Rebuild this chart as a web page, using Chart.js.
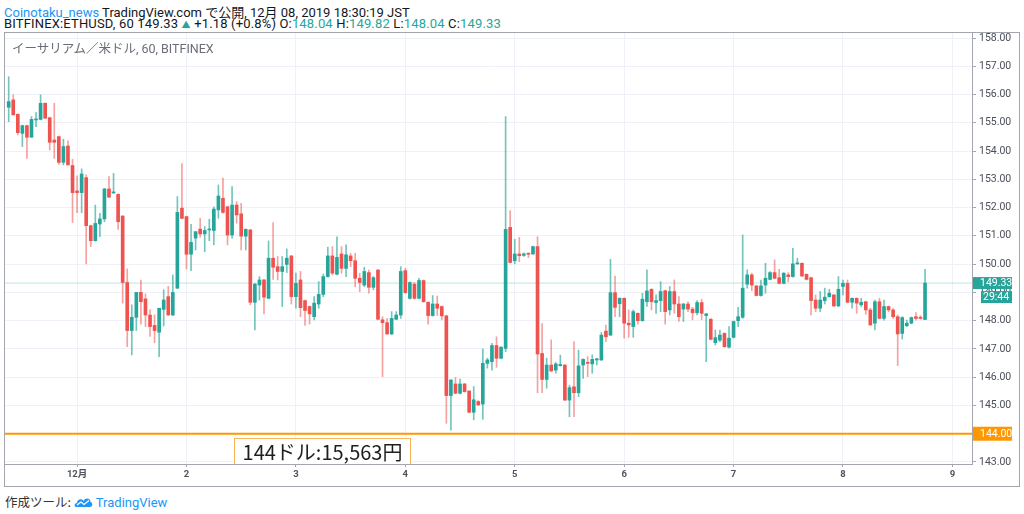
<!DOCTYPE html>
<html>
<head>
<meta charset="utf-8">
<script src="https://cdn.jsdelivr.net/npm/chart.js@4"></script>
<style>
  body { margin: 0; background: #fff; width: 1024px; height: 514px; overflow: hidden; font-family: Roboto, "Noto Sans CJK JP", sans-serif; }
  .head { position: absolute; left: 4px; font-size: 13px; color: #131722; white-space: nowrap; }
  .blue { color: #2196f3; }
  .up { color: #26a69a; }
  .box { position: absolute; left: 4px; top: 32px; width: 1016px; height: 455px; border: 1px solid #a3a6af; box-sizing: border-box; }
  .inner { position: absolute; left: 0; top: 0; width: 1014px; height: 453px; }
  .sym { position: absolute; left: 12px; top: 38px; font-size: 12.5px; color: #6a6d78; white-space: nowrap; }
  .note { position: absolute; left: 234px; top: 438px; width: 177px; height: 26px; border: 1px solid #f9b45c; border-bottom: none; box-sizing: border-box; background: #fff; font-family: "Noto Sans CJK JP", sans-serif; font-size: 20px; line-height: 25px; color: #1e1e1e; text-align: center; }
  .foot { position: absolute; left: 5px; top: 492px; font-size: 12.5px; color: #333; white-space: nowrap; font-family: "Noto Sans CJK JP", sans-serif; }
  .foot .tv { color: #2196f3; font-family: Roboto, sans-serif; font-size: 13px; }
</style>
</head>
<body>
<div class="head" style="top:2px"><span class="blue">Coinotaku_news</span> TradingView.com で公開, 12月 08, 2019 18:30:19 JST</div>
<div class="head" style="top:16px;letter-spacing:0.16px">BITFINEX:ETHUSD, 60 149.33 <span class="up" style="font-size:9px">▲</span> +1.18 (+0.8%) O:<span class="up">148.04</span> H:<span class="up">149.82</span> L:<span class="up">148.04</span> C:<span class="up">149.33</span></div>
<div class="box"><div class="inner"><canvas id="c"></canvas></div></div>
<div class="sym">イーサリアム／米ドル, 60, BITFINEX</div>
<div class="note">144ドル:15,563円</div>
<div class="foot">作成ツール:<svg width="19" height="12" viewBox="0 0 19 12" style="vertical-align:-1px;margin-left:3px"><path d="M2 11 C0 11 0 7 3 7 C3 3 8 2 9.5 5 C11 1 17 2 16.5 6 C19 6.5 19 11 16 11 Z" fill="#2196f3"/><path d="M3 9 L7 6 L10 8.5 L15 4.5" stroke="#fff" stroke-width="1.3" fill="none"/></svg> <span class="tv">TradingView</span></div>
<script>
// hourly candles, Nov 30 09:00 .. Dec 8 18:00 (JST)
const open = [
  155.55,155.81,155.30,154.63,154.90,154.49,155.10,155.12,155.69,155.18,154.39,154.51,153.60,154.18,153.49,152.59,152.53,153.06,151.36,150.83,
  151.42,151.60,152.66,152.52,152.47,151.70,149.35,147.65,148.12,149.00,148.77,148.20,147.83,147.59,148.40,148.85,148.20,149.15,151.98,151.68,
  150.35,150.92,151.24,151.07,151.21,151.19,151.92,152.33,152.03,151.03,152.09,151.78,150.99,151.21,148.65,149.26,149.44,148.79,150.21,149.91,
  149.74,149.99,150.29,148.85,149.44,148.71,148.50,148.14,148.59,148.93,149.56,150.29,149.64,150.36,149.85,150.29,150.12,149.50,149.26,149.70,
  149.18,149.79,148.03,147.93,147.53,148.05,148.20,149.77,148.79,149.29,148.79,149.42,148.65,148.18,148.59,148.50,148.17,145.35,145.76,145.43,
  145.76,145.51,144.76,145.14,145.05,146.49,146.55,147.12,146.67,147.02,151.30,150.12,150.36,150.31,150.38,150.36,150.62,146.84,145.92,146.43,
  146.25,146.41,146.43,145.19,145.66,145.45,146.43,146.52,146.47,146.61,146.61,147.63,147.49,148.99,148.60,148.79,147.91,147.79,148.26,148.00,
  148.67,149.11,148.64,148.71,149.06,148.38,149.03,148.59,148.41,148.59,148.41,148.28,148.64,148.18,148.05,147.22,147.31,147.55,147.06,147.41,
  148.00,148.12,149.29,149.62,149.23,148.89,149.26,149.46,149.70,149.52,149.32,149.62,149.56,150.01,150.03,149.64,149.52,148.73,148.44,148.71,
  148.85,148.91,148.52,149.21,149.32,148.65,148.79,148.56,148.67,148.38,147.91,148.67,148.08,148.50,148.38,148.14,147.55,147.82,147.91,148.14,
  148.12,148.04
];
const high = [
  156.63,155.99,155.32,154.92,154.92,155.22,155.36,155.99,155.71,155.20,155.69,154.53,154.42,154.36,153.71,153.12,153.37,153.16,151.38,152.09,
  151.80,152.68,153.10,153.21,152.49,151.72,149.83,148.56,149.00,149.44,148.95,148.38,148.20,148.44,149.09,149.21,149.62,152.39,153.56,151.70,
  151.41,151.15,151.62,151.33,151.59,152.03,152.80,153.04,152.05,152.74,152.21,152.15,151.25,151.23,149.32,149.56,149.46,150.82,151.47,150.27,
  150.27,150.54,150.31,149.68,149.74,148.73,148.52,148.85,149.38,149.65,150.60,150.62,150.97,150.62,150.68,150.38,150.38,149.68,149.89,149.79,
  149.56,149.82,148.14,148.08,148.32,148.32,149.91,149.85,149.37,149.35,149.50,149.44,148.67,148.89,148.87,148.52,148.19,145.92,145.99,145.93,
  145.78,145.53,145.67,145.17,147.00,146.67,147.20,147.43,147.08,155.22,151.89,150.88,150.95,150.40,150.40,150.64,150.97,147.90,146.67,147.32,
  146.52,146.78,146.45,145.72,147.26,146.96,146.65,146.73,146.79,146.67,147.58,147.84,150.17,149.58,148.81,148.81,148.38,148.38,148.28,148.97,
  149.80,149.13,148.91,149.38,149.08,149.21,149.44,148.85,148.61,148.67,148.47,148.71,148.76,148.26,148.08,147.67,147.67,147.57,147.79,147.99,
  148.47,151.03,149.80,149.68,149.25,149.44,150.03,149.74,150.15,149.82,149.70,149.70,150.56,150.21,150.05,149.66,149.54,148.91,149.03,149.15,
  149.11,148.93,149.56,149.44,149.44,148.81,148.81,148.79,148.69,148.44,148.73,148.79,148.73,148.52,148.44,148.20,148.14,148.02,148.13,148.29,
  148.18,149.82
];
const low = [
  155.04,155.28,154.57,154.16,153.74,154.49,154.86,155.10,155.16,154.04,153.74,153.53,153.51,153.51,151.47,151.82,151.82,150.01,150.62,150.81,
  150.97,151.50,152.35,152.50,151.23,148.62,147.08,146.79,147.65,147.88,147.79,147.44,147.22,146.73,147.81,148.18,148.18,149.13,151.60,149.83,
  149.77,150.50,150.95,150.44,150.83,150.68,151.62,151.80,150.68,150.92,151.45,150.50,150.50,148.56,147.67,148.73,148.24,148.77,149.46,149.44,
  148.50,149.70,148.59,148.44,148.14,147.83,147.88,148.03,148.44,148.85,149.54,149.62,149.62,149.68,149.56,149.91,149.20,149.03,149.20,148.97,
  149.09,148.03,146.02,147.51,147.50,148.03,148.08,148.97,148.76,148.76,148.77,148.65,147.88,148.16,148.18,148.03,144.37,144.13,145.41,145.41,
  145.47,144.74,144.49,145.00,144.51,146.32,146.25,146.35,146.65,146.90,150.04,150.01,150.09,150.27,150.23,150.34,145.45,145.45,145.61,146.20,
  146.14,146.39,145.17,144.60,144.60,145.31,145.96,146.02,146.14,146.43,146.59,147.26,147.47,148.14,148.14,147.38,147.41,147.41,147.88,147.98,
  148.50,148.38,148.26,148.32,147.88,148.20,148.26,147.97,147.97,148.32,148.03,148.20,148.03,146.55,147.32,147.14,147.26,147.06,147.04,147.39,
  147.79,148.08,149.15,149.06,148.87,148.87,148.97,149.44,149.48,149.30,149.30,149.38,149.54,149.99,149.56,149.44,148.20,148.32,148.32,148.59,
  148.83,148.50,148.50,148.91,148.63,148.44,148.26,148.50,148.22,147.83,147.67,148.06,148.02,148.32,148.08,146.41,147.35,147.79,147.89,148.02,
  148.05,148.04
];
const close = [
  155.75,155.28,154.65,154.90,154.49,155.12,155.12,155.69,155.16,154.31,154.31,153.60,154.16,153.51,152.53,152.53,153.19,151.36,150.83,151.44,
  151.60,152.66,152.37,152.55,151.50,149.35,147.65,148.12,149.00,148.67,148.20,147.79,147.65,148.44,148.73,148.20,149.00,151.83,151.62,150.35,
  150.77,151.15,151.07,151.19,151.24,151.95,152.41,151.83,151.03,152.09,151.74,150.99,151.23,148.65,149.29,149.44,148.83,150.21,149.89,149.74,
  149.91,150.21,148.85,149.32,148.46,148.36,148.24,148.62,148.93,149.56,150.29,149.68,150.24,149.85,150.33,150.12,149.50,149.35,149.74,149.18,
  149.52,148.05,147.93,147.53,148.08,148.20,149.74,148.99,149.35,148.79,149.42,148.67,148.18,148.59,148.44,148.17,145.35,145.90,145.43,145.76,
  145.49,144.76,145.20,145.02,146.49,146.61,147.12,146.67,147.06,151.23,150.06,150.36,150.30,150.36,150.35,150.62,146.82,145.92,146.43,146.22,
  146.47,146.45,145.19,145.63,145.45,146.40,146.63,146.49,146.63,146.65,147.49,147.43,148.99,148.47,148.79,147.91,147.85,148.32,148.00,148.76,
  149.05,148.67,148.71,149.03,148.32,149.03,148.59,148.14,148.59,148.41,148.28,148.64,148.26,148.24,147.34,147.40,147.49,147.08,147.38,147.97,
  148.14,149.15,149.62,149.26,148.89,149.23,149.50,149.70,149.50,149.32,149.68,149.56,150.01,150.03,149.58,149.46,148.71,148.44,148.73,148.83,
  148.97,148.52,149.11,149.32,148.65,148.79,148.62,148.65,148.38,147.85,148.67,148.08,148.50,148.38,148.14,147.53,148.11,147.91,148.11,148.08,
  148.08,149.33
];

// x axis: candle index of each day start, and its label
const dayTicks = [15, 39, 63, 87, 111, 135, 159, 183, 207];
const dayLabels = ['12月', '2', '3', '4', '5', '6', '7', '8', '9'];
const priceTicks = [143, 144, 145, 146, 147, 148, 149, 150, 151, 152, 153, 154, 155, 156, 157, 158];
const alertLevel = 144;
const countdown = '29:44';

const UP = '#26a69a', DOWN = '#ef5350';
const X_MIN = -0.81, X_MAX = 211.3;

const idx = close.map((_, i) => i);
const isUp = idx.map(i => close[i] >= open[i]);

const sideLabels = {
  id: 'sideLabels',
  afterDraw(chart) {
    const c = chart.ctx, y = chart.scales.y, area = chart.chartArea;
    const last = close[close.length - 1];
    c.save();
    c.font = '10.5px Roboto, sans-serif';
    c.textBaseline = 'middle';
    c.textAlign = 'left';
    let py = y.getPixelForValue(last);
    c.fillStyle = UP;
    c.fillRect(area.right + 1, py - 6, 39, 12);
    c.fillStyle = '#fff';
    c.fillText(last.toFixed(2), area.right + 8, py + 0.5);
    c.fillStyle = UP;
    c.fillRect(area.right + 9, py + 8, 31, 12);
    c.fillStyle = '#fff';
    c.fillText(countdown, area.right + 11, py + 14.5);
    py = y.getPixelForValue(alertLevel);
    c.fillStyle = '#ff9800';
    c.fillRect(area.right + 1, py - 7, 39, 14);
    c.fillStyle = '#fff';
    c.fillText(alertLevel.toFixed(2), area.right + 8, py + 0.5);
    c.restore();
  }
};

new Chart(document.getElementById('c'), {
  data: {
    datasets: [
      {
        type: 'bar',
        label: 'body',
        data: idx.map(i => ({ x: i, y: [open[i], close[i]] })),
        backgroundColor: idx.map(i => isUp[i] ? UP : DOWN),
        barThickness: 3,
        minBarLength: 1,
        grouped: false,
        order: 0
      },
      {
        type: 'bar',
        label: 'wick',
        data: idx.map(i => ({ x: i, y: [low[i], high[i]] })),
        backgroundColor: idx.map(i => isUp[i] ? 'rgba(38,166,154,0.65)' : 'rgba(239,83,80,0.55)'),
        barThickness: 1,
        grouped: false,
        order: 1
      },
      {
        type: 'line',
        label: 'last',
        data: [{ x: X_MIN, y: close[close.length - 1] }, { x: X_MAX, y: close[close.length - 1] }],
        borderColor: 'rgba(38,166,154,0.3)',
        borderWidth: 1,
        pointRadius: 0,
        order: 3
      },
      {
        type: 'line',
        label: 'alert',
        data: [{ x: X_MIN, y: alertLevel }, { x: X_MAX, y: alertLevel }],
        borderColor: '#ff9800',
        borderWidth: 2,
        pointRadius: 0,
        order: 2
      }
    ]
  },
  options: {
    responsive: true,
    maintainAspectRatio: false,
    animation: false,
    layout: { padding: 0, autoPadding: false },
    scales: {
      x: {
        type: 'linear',
        min: X_MIN,
        max: X_MAX,
        offset: false,
        afterBuildTicks: s => { s.ticks = dayTicks.map(v => ({ value: v })); },
        afterFit: s => { s.height = 22; s.paddingLeft = 0; s.paddingRight = 0; },
        ticks: {
          autoSkip: false,
          maxRotation: 0,
          padding: 2,
          color: '#50535e',
          font: { family: 'Roboto, "Noto Sans CJK JP"', size: 9.5, weight: 'bold' },
          callback: (v) => dayLabels[dayTicks.indexOf(v)]
        },
        grid: { color: '#eef1f7', offset: false, tickLength: 3, tickColor: '#a3a6af' },
        border: { color: '#a3a6af', width: 1 }
      },
      y: {
        position: 'right',
        min: 142.929,
        max: 158.177,
        afterBuildTicks: s => { s.ticks = priceTicks.map(v => ({ value: v })); },
        afterFit: s => { s.width = 47; s.paddingTop = 0; s.paddingBottom = 0; },
        ticks: {
          autoSkip: false,
          padding: 3,
          color: '#4a4e59',
          font: { family: 'Roboto', size: 10.5 },
          callback: v => v.toFixed(2)
        },
        grid: { color: '#eef1f7', tickLength: 4, tickColor: '#a3a6af' },
        border: { color: '#a3a6af', width: 1 }
      }
    },
    plugins: {
      legend: { display: false },
      tooltip: { enabled: false }
    }
  },
  plugins: [sideLabels]
});
</script>
</body>
</html>
